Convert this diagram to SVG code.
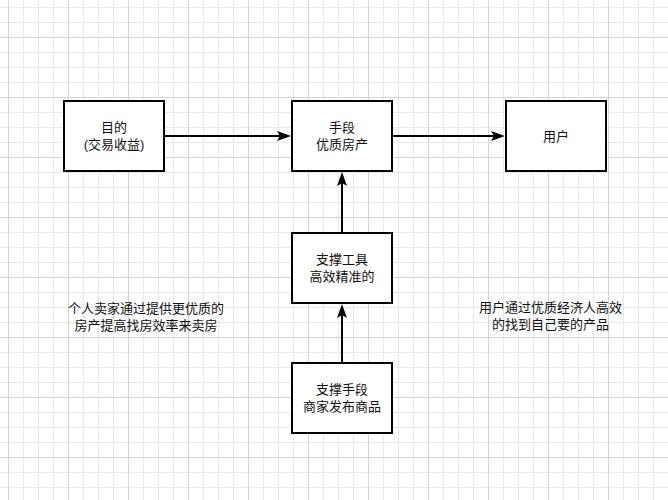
<svg xmlns="http://www.w3.org/2000/svg" width="668" height="500" viewBox="0 0 668 500">
  <style>
    .box { fill: #ffffff; stroke: #000000; stroke-width: 2; }
    .edge { fill: none; stroke: #000000; stroke-width: 2; }
    .t { font-family: "Liberation Sans", "Noto Sans CJK SC", sans-serif; font-size: 13px; fill: #111111; text-anchor: middle; }
  </style>
  <defs>
    <pattern id="grid" patternUnits="userSpaceOnUse" x="8" y="37" width="60" height="60">
      <path d="M15.5,0 V60 M30.5,0 V60 M45.5,0 V60 M0,15.5 H60 M0,30.5 H60 M0,45.5 H60" stroke="#e9e9e9" stroke-width="1" fill="none"/>
      <path d="M0.5,0 V60 M0,0.5 H60" stroke="#d4d4d4" stroke-width="1" fill="none"/>
    </pattern>
    <marker id="arrow" markerUnits="userSpaceOnUse" markerWidth="16" markerHeight="12" viewBox="0 0 16 12" refX="4" refY="6" orient="auto">
      <path d="M1,1 L15,6 L1,11 L4,6 Z" fill="#000000"/>
    </marker>
  </defs>
  <rect x="0" y="0" width="668" height="500" fill="#ffffff"/>
  <rect x="0" y="0" width="668" height="500" fill="url(#grid)"/>

  <g id="connectors">
    <path class="edge" d="M165,136 H280" marker-end="url(#arrow)"/>
    <path class="edge" d="M393,136 H494" marker-end="url(#arrow)"/>
    <path class="edge" d="M342,233 V183" marker-end="url(#arrow)"/>
    <path class="edge" d="M342,363 V315" marker-end="url(#arrow)"/>
  </g>

  <g id="node-goal">
    <rect class="box" x="64" y="101" width="100" height="70"/>
    <text class="t" x="114" y="132">目的</text>
    <text class="t" x="114" y="149">(交易收益)</text>
  </g>
  <g id="node-means">
    <rect class="box" x="292" y="101" width="100" height="70"/>
    <text class="t" x="342" y="132">手段</text>
    <text class="t" x="342" y="149">优质房产</text>
  </g>
  <g id="node-user">
    <rect class="box" x="506" y="101" width="100" height="70"/>
    <text class="t" x="556" y="140.5">用户</text>
  </g>
  <g id="node-tool">
    <rect class="box" x="292" y="233" width="100" height="70"/>
    <text class="t" x="342" y="264">支撑工具</text>
    <text class="t" x="342" y="281">高效精准的</text>
  </g>
  <g id="node-support">
    <rect class="box" x="292" y="363" width="100" height="70"/>
    <text class="t" x="342" y="394">支撑手段</text>
    <text class="t" x="342" y="411">商家发布商品</text>
  </g>
  <g id="note-left">
    <text class="t" x="146" y="312.5">个人卖家通过提供更优质的</text>
    <text class="t" x="146" y="329.5">房产提高找房效率来卖房</text>
  </g>
  <g id="note-right">
    <text class="t" x="550.5" y="311.5">用户通过优质经济人高效</text>
    <text class="t" x="550.5" y="328.5">的找到自己要的产品</text>
  </g>
</svg>
